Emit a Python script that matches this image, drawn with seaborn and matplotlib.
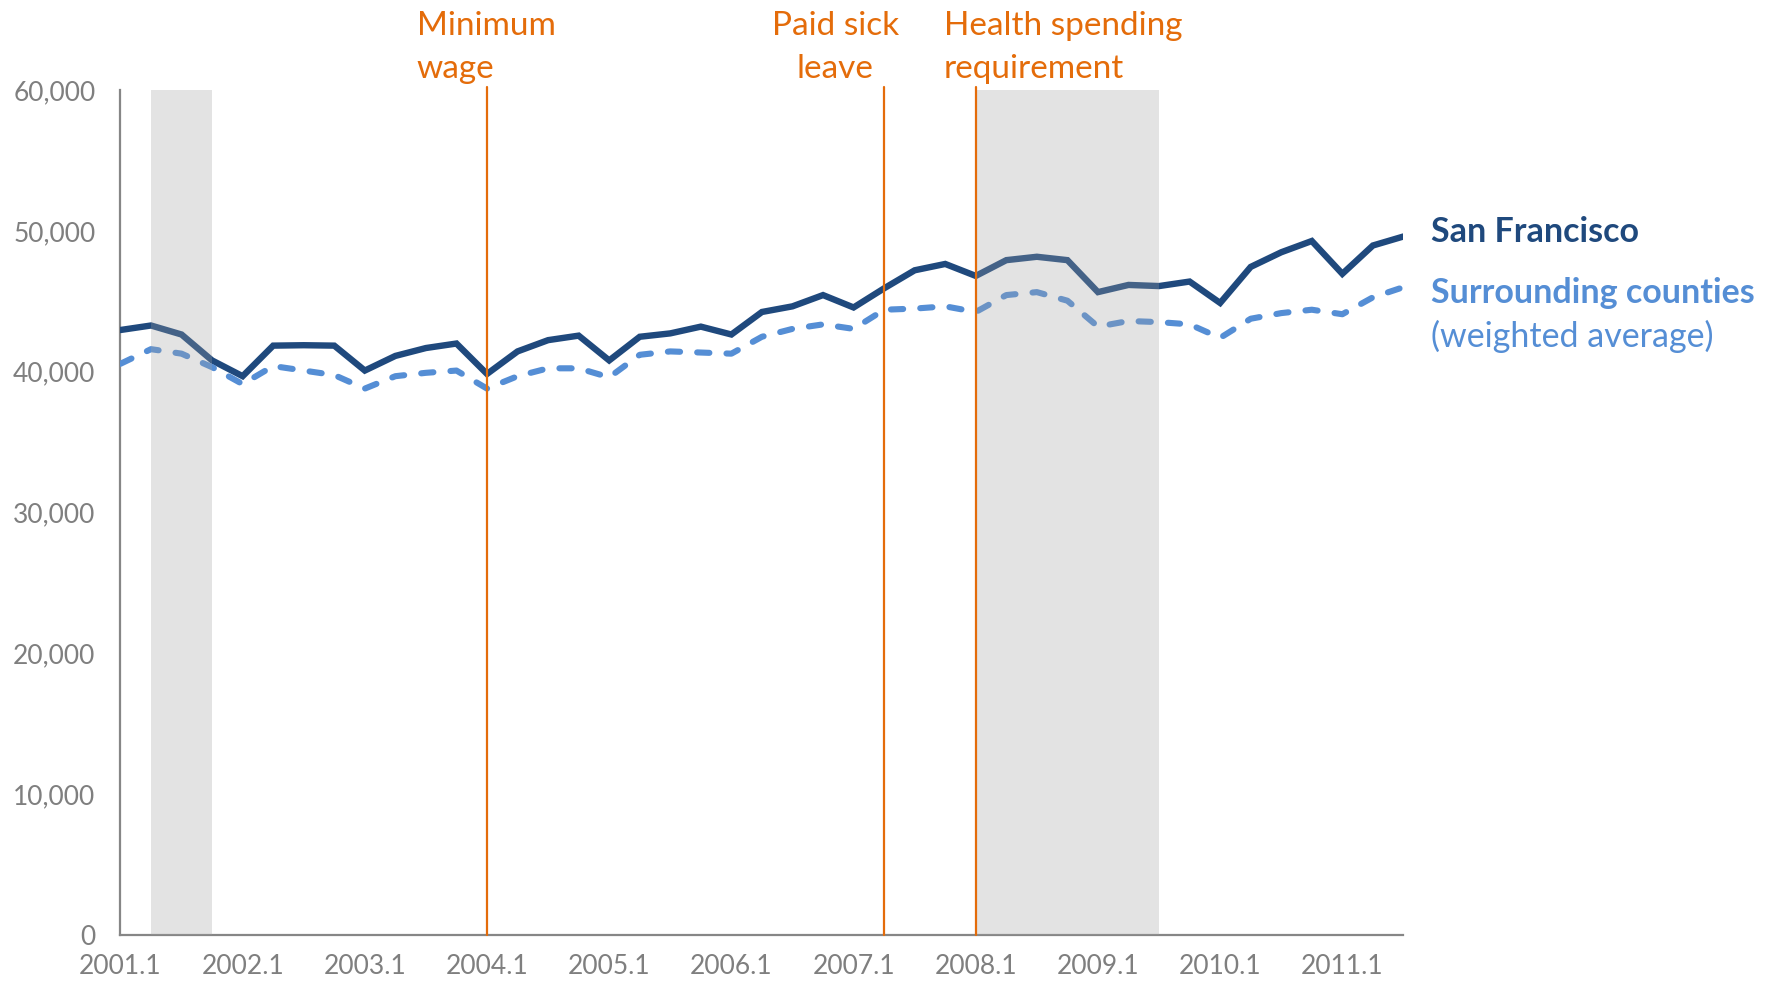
import numpy as np
import pandas as pd
import matplotlib
matplotlib.use("Agg")
import matplotlib.pyplot as plt
import seaborn as sns
from matplotlib.ticker import FixedLocator, FuncFormatter

# ----------------------------------------------------------
# DATOS (trimestres 2001.1 - 2011.3)
# ----------------------------------------------------------
trimestres = [f"{a}.{q}" for a in range(2001, 2012) for q in range(1, 5)][:43]

san_francisco = [
    42960, 43280, 42640, 40800, 39680, 41850, 41880, 41850,
    40080, 41120, 41680, 42000, 39840, 41440, 42240, 42560,
    40800, 42480, 42720, 43200, 42640, 44240, 44640, 45440,
    44560, 45920, 47200, 47650, 46800, 47920, 48160, 47920,
    45650, 46160, 46080, 46400, 44880, 47440, 48480, 49280,
    46950, 48960, 49600,
]

surrounding = [
    40560, 41600, 41280, 40320, 39120, 40400, 40080, 39760,
    38800, 39680, 39920, 40080, 38800, 39680, 40240, 40240,
    39600, 41200, 41440, 41360, 41280, 42480, 43040, 43360,
    43040, 44400, 44480, 44640, 44240, 45440, 45650, 45040,
    43200, 43600, 43520, 43360, 42400, 43760, 44160, 44400,
    44080, 45280, 46000,
]

# recesiones (inicio, fin) en trimestres
recesiones = [("2001.2", "2001.4"), ("2008.1", "2009.3")]

# politicas: (trimestre, texto, alineacion, desplazamiento de texto)
politicas = [
    ("2004.1", ["Minimum", "wage"], "left", -2.3),
    ("2007.2", ["Paid sick", "leave"], "center", -1.6),
    ("2008.1", ["Health spending", "requirement"], "left", -1.05),
]

y_ticks = [0, 10000, 20000, 30000, 40000, 50000, 60000]

# ----------------------------------------------------------
# COLORES
# ----------------------------------------------------------
C_SF = "#1F497D"
C_SUR = "#558ED5"
C_NAR = "#E46C0A"
C_GRIS = "#868686"

idx = {t: i for i, t in enumerate(trimestres)}
df = pd.DataFrame({
    "q": np.arange(len(trimestres)),
    "San Francisco": san_francisco,
    "Surrounding": surrounding,
})

sns.set_style("white")
plt.rcParams["font.family"] = ["Lato", "DejaVu Sans"]

fig = plt.figure(figsize=(17.66, 9.86), dpi=100)
ax = fig.add_axes([0.0682, 0.0517, 0.7265, 0.857])

sns.lineplot(data=df, x="q", y="San Francisco", ax=ax, color=C_SF,
             linewidth=4.6, zorder=3)
sns.lineplot(data=df, x="q", y="Surrounding", ax=ax, color=C_SUR,
             linewidth=4.4, zorder=3)
ax.lines[0].set_solid_joinstyle("miter")
ax.lines[1].set_dashes((2.0, 2.8))
ax.lines[1].set_dash_capstyle("round")

# sombreado de recesiones (encima de las lineas, semitransparente)
for ini, fin in recesiones:
    ax.axvspan(idx[ini], idx[fin], color="#A0A0A0", alpha=0.295,
               lw=0, zorder=4)

# lineas de politicas
for q, lineas, ha, dx in politicas:
    ax.axvline(idx[q], ymin=0, ymax=1.004, color=C_NAR, lw=1.6,
               zorder=5, clip_on=False)
    xt = idx[q] + dx
    for texto, yy in zip(lineas, [1.065, 1.014]):
        ax.text(xt, yy, texto, transform=ax.get_xaxis_transform(),
                ha=ha, va="baseline", color=C_NAR, fontsize=24)

ax.set_xlim(0, len(trimestres) - 1)
ax.set_ylim(0, 60000)
ax.set_xlabel("")
ax.set_ylabel("")

# ejes
for s in ["top", "right"]:
    ax.spines[s].set_visible(False)
for s in ["left", "bottom"]:
    ax.spines[s].set_color(C_GRIS)
    ax.spines[s].set_linewidth(1.6)

mayores = list(range(0, len(trimestres), 2))
menores = list(range(1, len(trimestres), 2))
ax.xaxis.set_major_locator(FixedLocator(mayores))
ax.xaxis.set_minor_locator(FixedLocator(menores))
ax.set_xticklabels([trimestres[i] if i % 4 == 0 else "" for i in mayores])
ax.tick_params(axis="x", which="major", direction="inout", length=13,
               width=1.3, color=C_GRIS, labelcolor="#7F7F7F",
               labelsize=19, pad=7)
ax.tick_params(axis="x", which="minor", direction="in", length=5.5,
               width=1.3, color=C_GRIS)

ax.set_yticks(y_ticks)
ax.yaxis.set_major_formatter(FuncFormatter(lambda v, p: f"{int(v):,}"))
ax.tick_params(axis="y", direction="out", length=6, width=1.3,
               color=C_GRIS, labelcolor="#7F7F7F", labelsize=19, pad=12)
ax.grid(False)

# etiquetas de series
fig.text(1431 / 1766, 1 - 241.5 / 986, "San Francisco", color=C_SF,
         fontsize=24.5, fontweight="bold", va="baseline", ha="left")
fig.text(1431 / 1766, 1 - 303 / 986, "Surrounding counties", color=C_SUR,
         fontsize=24.5, fontweight="bold", va="baseline", ha="left")
fig.text(1431 / 1766, 1 - 347 / 986, "(weighted average)", color=C_SUR,
         fontsize=24.5, va="baseline", ha="left")

fig.savefig("out.png", dpi=100)
